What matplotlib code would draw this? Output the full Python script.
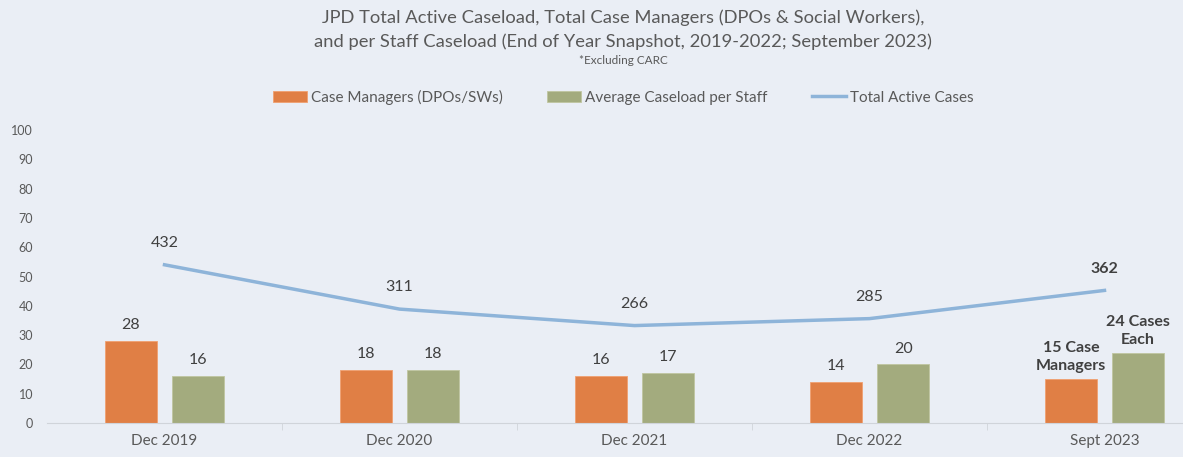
import matplotlib.pyplot as plt
import numpy as np

periods = ['Dec 2019', 'Dec 2020', 'Dec 2021', 'Dec 2022', 'Sept 2023']
case_managers = [28, 18, 16, 14, 15]
avg_caseload = [16, 18, 17, 20, 24]
total_cases = [432, 311, 266, 285, 362]

orange = '#E07F45'
green = '#A3AB7E'
blue = '#8EB4D9'
bg = '#EAEEF5'
txt = '#595959'

plt.rcParams['font.family'] = ['Lato', 'DejaVu Sans']

fig = plt.figure(figsize=(11.83, 4.57), dpi=100, facecolor=bg)
ax = fig.add_axes([47 / 1183, 34 / 457, 1175 / 1183, 293 / 457])
ax.set_facecolor(bg)

x = np.arange(len(periods))
w = 0.22
off = 0.143
b1 = ax.bar(x - off, case_managers, w, color=orange, edgecolor='#F0A070', linewidth=0.6,
            label='Case Managers (DPOs/SWs)')
b2 = ax.bar(x + off, avg_caseload, w, color=green, edgecolor='#C0C6A0', linewidth=0.6,
            label='Average Caseload per Staff')

ax.set_xlim(-0.5, len(periods) - 0.5)
ax.set_ylim(0, 100)
ax.set_yticks(range(0, 101, 10))
ax.set_xticks(x)
ax.set_xticklabels(periods, fontsize=11, color=txt)
ax.tick_params(axis='x', length=0, pad=8)
ax.set_xticks(np.arange(0.5, len(periods) - 0.5, 1), minor=True)
ax.tick_params(axis='x', which='minor', length=5, color='#D0D4DA')
ax.tick_params(axis='y', length=0, labelsize=9, labelcolor=txt, pad=10)
for s in ['top', 'right', 'left']:
    ax.spines[s].set_visible(False)
ax.spines['bottom'].set_color('#D0D4DA')

lab = '#404040'
for i in range(len(periods) - 1):
    ax.text(x[i] - off, case_managers[i] + 3, str(case_managers[i]), ha='center',
            va='bottom', fontsize=11.5, color=lab)
    ax.text(x[i] + off, avg_caseload[i] + 3, str(avg_caseload[i]), ha='center',
            va='bottom', fontsize=11.5, color=lab)
i = len(periods) - 1
ax.text(x[i] - off, case_managers[i] + 2, f'{case_managers[i]} Case\nManagers', ha='center',
        va='bottom', fontsize=11.5, color=lab, fontweight='bold', linespacing=1.35)
ax.text(x[i] + off, avg_caseload[i] + 2, f'{avg_caseload[i]} Cases\nEach', ha='center',
        va='bottom', fontsize=11.5, color=lab, fontweight='bold', linespacing=1.35)

ax2 = ax.twinx()
ax2.set_ylim(0, 800)
ax2.axis('off')
ln, = ax2.plot(x, total_cases, color=blue, linewidth=2.5, label='Total Active Cases')
for j, v in enumerate(total_cases):
    ax2.text(x[j], v + 40, str(v), ha='center', va='bottom', fontsize=11.5, color=lab,
             fontweight='bold' if j == len(periods) - 1 else 'normal')

fig.legend(handles=[b1, b2, ln], loc='center', bbox_to_anchor=(0.527, 1 - 97 / 457),
           ncol=3, frameon=False, fontsize=11, labelcolor=txt, handlelength=2.2,
           handletextpad=0.3, columnspacing=2.9)

fig.text(0.527, 1 - 18 / 457, 'JPD Total Active Caseload, Total Case Managers (DPOs & Social Workers),',
         ha='center', va='center', fontsize=13.2, color=txt)
fig.text(0.527, 1 - 42 / 457, 'and per Staff Caseload (End of Year Snapshot, 2019-2022; September 2023)',
         ha='center', va='center', fontsize=13.2, color=txt)
fig.text(0.527, 1 - 61 / 457, '*Excluding CARC', ha='center', va='center', fontsize=8.5, color=txt)

fig.savefig('out.png', dpi=100, facecolor=bg)
